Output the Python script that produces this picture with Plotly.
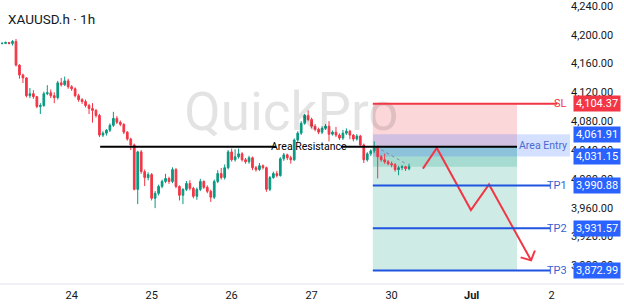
import plotly.graph_objects as go

# ---- data (XAUUSD.h 1h) ----
close = [4187.9, 4189.2, 4187.9, 4190.6, 4157.8, 4144.1, 4140.0, 4115.4, 4118.1, 4114.0,
         4100.3, 4101.7, 4118.1, 4119.5, 4115.4, 4112.6, 4133.2, 4130.4, 4135.9, 4127.7,
         4125.0, 4115.4, 4109.9, 4107.2, 4101.7, 4097.6, 4094.9, 4088.0, 4060.7, 4063.4,
         4067.5, 4074.3, 4083.9, 4078.4, 4075.7, 4064.8, 4055.2, 4047.0, 3985.4, 4037.4,
         4010.0, 4001.8, 4005.9, 3973.1, 3979.9, 3989.5, 3996.4, 4000.5, 3996.4, 4012.8,
         3989.5, 3977.2, 3985.4, 3993.6, 3986.8, 3975.8, 3985.4, 3996.4, 3988.2, 3982.7,
         3974.5, 3996.4, 4007.3, 4001.8, 4015.5, 4037.4, 4026.5, 4030.6, 4034.7, 4026.5,
         4023.7, 4029.2, 4015.5, 4012.8, 4018.2, 4015.5, 3985.4, 4001.8, 4007.3, 4004.6,
         4027.8, 4033.3, 4029.2, 4026.5, 4053.8, 4063.4, 4077.1, 4088.0, 4082.5, 4073.0,
         4068.9, 4064.8, 4070.2, 4073.0, 4062.0, 4064.8, 4060.7, 4056.6, 4063.4, 4066.1,
         4060.7, 4055.2, 4059.3, 4047.0, 4026.5, 4034.7, 4038.8, 4042.9, 4030.6, 4026.5,
         4023.7, 4021.0, 4019.6, 4012.8, 4015.5, 4016.9, 4014.1, 4016.9]
high = [4189.5, 4190.5, 4190.0, 4192.5, 4194.0, 4159.0, 4146.0, 4141.0, 4126.0, 4123.0,
        4115.0, 4105.0, 4121.0, 4130.0, 4124.0, 4120.0, 4136.0, 4140.0, 4142.0, 4139.0,
        4130.0, 4127.0, 4118.0, 4112.0, 4110.0, 4104.0, 4105.0, 4097.0, 4090.0, 4066.0,
        4069.0, 4077.0, 4093.0, 4087.0, 4081.0, 4077.0, 4066.0, 4057.0, 4049.0, 4039.0,
        4040.0, 4013.0, 4009.0, 4008.0, 3983.0, 3992.0, 3999.0, 4007.0, 4003.0, 4016.0,
        4015.0, 3991.0, 3987.0, 3997.0, 3998.0, 3989.0, 3988.0, 4000.0, 3998.0, 3991.0,
        3985.0, 3999.0, 4012.0, 4015.0, 4020.0, 4040.0, 4042.0, 4041.0, 4042.0, 4037.0,
        4029.0, 4032.0, 4031.0, 4018.0, 4022.0, 4020.0, 4017.0, 4004.0, 4010.0, 4011.0,
        4030.0, 4036.0, 4035.0, 4032.0, 4056.0, 4066.0, 4080.0, 4090.0, 4095.0, 4085.0,
        4076.0, 4071.0, 4073.0, 4076.0, 4080.0, 4067.0, 4072.0, 4063.0, 4068.0, 4070.0,
        4068.0, 4062.0, 4062.0, 4061.0, 4049.0, 4037.0, 4041.0, 4052.0, 4046.0, 4033.0,
        4035.0, 4026.0, 4024.0, 4022.0, 4018.0, 4019.0, 4018.0, 4021.0]
low = [4186.5, 4187.0, 4186.5, 4185.0, 4156.0, 4139.0, 4133.0, 4113.0, 4112.0, 4111.0,
       4098.0, 4090.0, 4100.0, 4116.0, 4112.0, 4105.0, 4110.0, 4128.0, 4129.0, 4125.0,
       4122.0, 4113.0, 4107.0, 4104.0, 4099.0, 4090.0, 4078.0, 4085.0, 4058.0, 4058.0,
       4060.0, 4065.0, 4072.0, 4076.0, 4073.0, 4062.0, 4053.0, 4040.0, 3984.0, 3964.9,
       4007.0, 3990.0, 3998.0, 3970.0, 3959.4, 3977.0, 3987.0, 3994.0, 3993.0, 3994.0,
       3987.0, 3970.0, 3964.9, 3983.0, 3984.0, 3973.0, 3971.0, 3983.0, 3986.0, 3980.0,
       3968.0, 3972.0, 3994.0, 3999.0, 3999.0, 4013.0, 4024.0, 4024.0, 4028.0, 4024.0,
       4021.0, 4021.0, 4012.0, 4010.0, 4011.0, 4013.0, 3982.0, 3983.0, 4000.0, 4002.0,
       4003.0, 4025.0, 4026.0, 4021.0, 4025.0, 4051.0, 4061.0, 4075.0, 4080.0, 4070.0,
       4066.0, 4062.0, 4062.0, 4068.0, 4052.0, 4060.0, 4058.0, 4054.0, 4054.0, 4061.0,
       4055.0, 4052.0, 4053.0, 4044.0, 4022.0, 4024.0, 4032.0, 4036.0, 4000.5, 4024.0,
       4021.0, 4019.0, 4016.0, 4010.0, 4005.0, 4012.0, 4011.0, 4012.0]
open_ = [close[0]] + close[:-1]
bar_index = list(range(len(close)))

day_tick_index = [20, 43, 66, 89, 112, 135, 158]
day_tick_text = ["24", "25", "26", "27", "30", "<b>Jul</b>", "2"]
price_ticks = [3880, 3920, 3960, 4000, 4040, 4080, 4120, 4160, 4200, 4240]

# trade plan levels
sl = 4104.37
entry_top = 4061.91
entry_bot = 4031.15
tp_levels = [3990.88, 3931.57, 3872.99]
tp_names = ["TP1", "TP2", "TP3"]
resistance = 4044.5
current = close[-1]

# drawing (bar index, price)
pos_start, pos_end = 106.6, 148.05
res_start, res_end = 28.2, 148.05
zz_x = [121.0, 125.0, 134.8, 140.0, 152.1]
zz_y = [4014.1, 4042.9, 3956.7, 3992.3, 3886.9]
head_x = [149.1, 152.1, 153.2]
head_y = [3891.0, 3886.9, 3900.6]

GREEN = "#089981"
RED = "#F23645"
BLUE = "#2962FF"
TXT = "#131722"
FONT = "Roboto"

fig = go.Figure()

# watermark (below candles)
fig.add_trace(go.Scatter(x=[83.2], y=[4086], mode="text", text=["QuickPro"],
                         textfont=dict(family=FONT, size=53, color="rgba(0,0,0,0.11)"),
                         hoverinfo="skip", showlegend=False))

fig.add_trace(go.Candlestick(x=bar_index, open=open_, high=high, low=low, close=close,
                             increasing=dict(line=dict(color=GREEN, width=1), fillcolor=GREEN),
                             decreasing=dict(line=dict(color=RED, width=1), fillcolor=RED),
                             whiskerwidth=0, showlegend=False, hoverinfo="skip"))

# zigzag projection
fig.add_trace(go.Scatter(x=zz_x, y=zz_y, mode="lines", line=dict(color=RED, width=2),
                         hoverinfo="skip", showlegend=False))
fig.add_trace(go.Scatter(x=head_x, y=head_y, mode="lines", line=dict(color=RED, width=2),
                         hoverinfo="skip", showlegend=False))
# entry -> current dotted
fig.add_trace(go.Scatter(x=[107.5, 116.5], y=[resistance, current + 3], mode="lines",
                         line=dict(color="rgba(120,123,134,0.8)", width=1, dash="dot"),
                         hoverinfo="skip", showlegend=False))

shapes = []
# stop zone
shapes.append(dict(type="rect", xref="x", yref="y", x0=pos_start, x1=pos_end, y0=resistance, y1=sl,
                   fillcolor="rgba(242,54,69,0.2)", line=dict(width=0), layer="below"))
# target zone
shapes.append(dict(type="rect", xref="x", yref="y", x0=pos_start, x1=pos_end, y0=tp_levels[2], y1=resistance,
                   fillcolor="rgba(8,153,129,0.2)", line=dict(width=0), layer="below"))
# realised part
shapes.append(dict(type="rect", xref="x", yref="y", x0=pos_start, x1=pos_end, y0=current, y1=resistance,
                   fillcolor="rgba(8,153,129,0.2)", line=dict(width=0), layer="below"))
# area entry box
shapes.append(dict(type="rect", xref="x", yref="y", x0=pos_start, x1=163.3, y0=entry_bot, y1=entry_top,
                   fillcolor="rgba(41,98,255,0.2)", line=dict(width=0), layer="below"))
# resistance line (split for label)
shapes.append(dict(type="line", xref="x", yref="y", x0=res_start, x1=78.8, y0=resistance, y1=resistance,
                   line=dict(color="#000000", width=2)))
shapes.append(dict(type="line", xref="x", yref="y", x0=97.4, x1=res_end, y0=resistance, y1=resistance,
                   line=dict(color="#000000", width=2)))
# SL line
shapes.append(dict(type="line", xref="x", yref="y", x0=pos_start, x1=159.6, y0=sl, y1=sl,
                   line=dict(color=RED, width=2)))
for lv in tp_levels:
    shapes.append(dict(type="line", xref="x", yref="y", x0=pos_start, x1=157.6, y0=lv, y1=lv,
                       line=dict(color="#1F54E0", width=2)))
# bottom axis separator
shapes.append(dict(type="line", xref="paper", yref="paper", x0=0, x1=1.2, y0=0, y1=0,
                   line=dict(color="#E0E3EB", width=1)))

ann = []
ann.append(dict(xref="paper", yref="paper", x=0, y=1, xanchor="left", yanchor="top",
                xshift=6, yshift=-5, text="XAUUSD.h · 1h", showarrow=False,
                font=dict(family=FONT, size=13.5, color=TXT)))
ann.append(dict(xref="x", yref="y", x=88.2, y=resistance, text="Area Resistance", showarrow=False,
                font=dict(family=FONT, size=10.5, color="#000000")))
ann.append(dict(xref="paper", yref="y", x=0.998, y=(entry_top + entry_bot) / 2, xanchor="right",
                text="Area Entry", showarrow=False, font=dict(family=FONT, size=10.5, color="#4A6BD0")))
ann.append(dict(xref="paper", yref="y", x=0.998, y=sl, xanchor="right", text="SL", showarrow=False,
                font=dict(family=FONT, size=11, color=RED)))
for lv, nm in zip(tp_levels, tp_names):
    ann.append(dict(xref="paper", yref="y", x=0.998, y=lv, xanchor="right", text=nm, showarrow=False,
                    font=dict(family=FONT, size=11, color="#3A5FD0")))

def price_box(v, color):
    return dict(xref="paper", yref="y", x=1, y=v, xanchor="left", xshift=3, text=f"{v:,.2f}",
                showarrow=False, bgcolor=color, borderpad=1, width=44,
                font=dict(family=FONT, size=11, color="#FFFFFF"))

ann.append(price_box(sl, RED))
ann.append(price_box(entry_top, BLUE))
ann.append(price_box(entry_bot, BLUE))
for lv in tp_levels:
    ann.append(price_box(lv, BLUE))

fig.update_layout(
    width=624, height=306,
    margin=dict(l=0, r=54, t=0, b=22),
    paper_bgcolor="#FFFFFF", plot_bgcolor="#FFFFFF",
    shapes=shapes, annotations=ann,
    showlegend=False,
    xaxis=dict(range=[-0.6, 163.29], tickvals=day_tick_index, ticktext=day_tick_text,
               showgrid=False, zeroline=False, showline=False, ticks="",
               ticklabelstandoff=3,
               tickfont=dict(family=FONT, size=11, color=TXT), rangeslider=dict(visible=False),
               fixedrange=True),
    yaxis=dict(range=[3854.1, 4242.6], side="right", tickvals=price_ticks, tickformat=",.2f",
               showgrid=False, zeroline=False, showline=False, ticks="",
               ticklabeloverflow="allow",
               tickfont=dict(family=FONT, size=11, color=TXT), fixedrange=True),
)

fig.write_html("out.html")
